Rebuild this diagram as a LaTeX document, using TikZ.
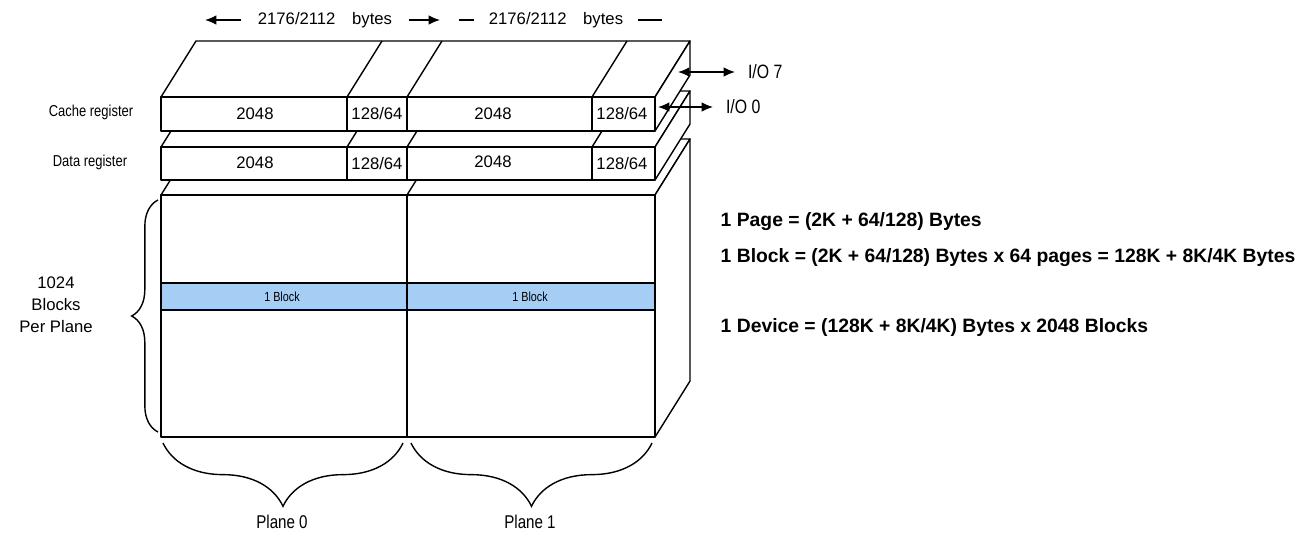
\documentclass[tikz,border=0pt]{standalone}
\usepackage{fontspec}
\setmainfont{Liberation Sans}
\newfontfamily\narrowfont[FakeStretch=0.82]{Liberation Sans}
\usetikzlibrary{arrows.meta,decorations.pathreplacing}
\definecolor{blockblue}{RGB}{166,206,245}
\tikzset{
	face/.style={draw, fill=white, line join=round},
	num/.style={inner sep=0, font=\fontsize{9.5}{11}\selectfont},
	small/.style={inner sep=0, font=\narrowfont\fontsize{9}{11}\selectfont},
	note/.style={anchor=west, inner sep=0, font=\bfseries\fontsize{11}{13}\selectfont},
	arr/.style={-{Latex[length=6.5pt,width=5.5pt]}},
	dblarr/.style={{Latex[length=6.5pt,width=5.5pt]}-{Latex[length=6.5pt,width=5.5pt]}},
	bracket/.style={decorate, decoration={brace, amplitude=#1}},
}
\begin{document}
\begin{tikzpicture}[x=0.02cm, y=-0.02cm, line width=0.8pt]
	\useasboundingbox (0,0) rectangle (1310,538);
	\draw[face] (161,195) -- (196,139) -- (690,139) -- (655,195) -- cycle;
	\draw[face] (655,195) -- (690,139) -- (690,381) -- (655,437) -- cycle;
	\draw[face] (161,195) rectangle (655,437);
	\draw[fill=blockblue] (161,283) rectangle (655,310);
	\draw (407,195) -- ++(35,-56);
	\draw (407,195) -- (407,437);
	\node[small, font=\narrowfont\fontsize{7.5}{9}\selectfont] at (282,297) (blk0) {1 Block};
	\node[small, font=\narrowfont\fontsize{7.5}{9}\selectfont] at (530,297) (blk1) {1 Block};
	\foreach \t/\b in {147/180, 97/131} {
		\draw[face] (161,\t) -- (196,\t-56) -- (690,\t-56) -- (655,\t) -- cycle;
		\draw[face] (655,\t) -- (690,\t-56) -- (690,\b-56) -- (655,\b) -- cycle;
		\draw[face] (161,\t) rectangle (655,\b);
		\foreach \x in {347,407,592} {
			\draw (\x,\t) -- ++(35,-56);
			\draw (\x,\t) -- (\x,\b);
		}
	}
	\node[num] at (255,114) (cmain0) {2048};
	\node[num] at (377,114) (cspare0) {128/64};
	\node[num] at (493,114) (cmain1) {2048};
	\node[num] at (622,114) (cspare1) {128/64};
	\node[num] at (255,163) (dmain0) {2048};
	\node[num] at (377,164) (dspare0) {128/64};
	\node[num] at (493,162) (dmain1) {2048};
	\node[num] at (622,164) (dspare1) {128/64};
	\node[small] at (91,112) (cachelbl) {Cache register};
	\node[small] at (90,162) (datalbl) {Data register};
	\node[num, inner xsep=9pt] at (325,20) (hdr0) {2176/2112\hspace{1em}bytes};
	\node[num, inner xsep=8pt] at (556,20) (hdr1) {2176/2112\hspace{1em}bytes};
	\coordinate (hdr0l) at (205,20);
	\coordinate (hdr0r) at (440,20);
	\coordinate (hdr1l) at (459,20);
	\coordinate (hdr1r) at (662,20);
	\draw[arr] (hdr0.west) -- (hdr0l);
	\draw[arr] (hdr0.east) -- (hdr0r);
	\draw (hdr1.west) -- (hdr1l);
	\draw (hdr1.east) -- (hdr1r);
	\node[num, font=\narrowfont\fontsize{11}{13}\selectfont, anchor=west, inner xsep=7pt] at (735,72) (io7) {I/O 7};
	\node[num, font=\narrowfont\fontsize{11}{13}\selectfont, anchor=west, inner xsep=7pt] at (713,107) (io0) {I/O 0};
	\coordinate (io7s) at (678,72);
	\coordinate (io0s) at (658,107);
	\draw[dblarr] (io7s) -- (io7.west);
	\draw[dblarr] (io0s) -- (io0.west);
	\draw[bracket=15pt] (158,432) -- (158,200);
	\node[num, align=center, font=\fontsize{9.5}{12.5}\selectfont] at (56,305) (perplane) {1024\\Blocks\\Per Plane};
	\draw[bracket=36pt] (403,443) -- (163,443);
	\draw[bracket=36pt] (652,443) -- (411,443);
	\node[num, font=\narrowfont\fontsize{10.5}{12}\selectfont] at (282,522) (plane0) {Plane 0};
	\node[num, font=\narrowfont\fontsize{10.5}{12}\selectfont] at (530,522) (plane1) {Plane 1};
	\node[note] at (720,222) (page) {1 Page = (2K + 64/128) Bytes};
	\node[note] at (720,258) (block) {1 Block = (2K + 64/128) Bytes x 64 pages = 128K + 8K/4K Bytes};
	\node[note] at (720,327) (device) {1 Device = (128K + 8K/4K) Bytes x 2048 Blocks};
\end{tikzpicture}
\end{document}
